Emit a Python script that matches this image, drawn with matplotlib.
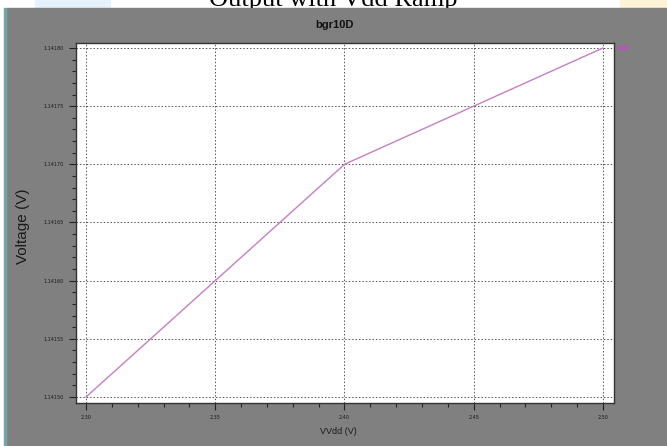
import matplotlib.pyplot as plt
from matplotlib.patches import Rectangle
from matplotlib.ticker import MultipleLocator

# sweep of supply voltage and resulting bandgap output
vdd = [2.30, 2.35, 2.40, 2.45, 2.50]
vout = [1.14150, 1.14160, 1.14170, 1.14175, 1.14180]
xticks = [2.30, 2.35, 2.40, 2.45, 2.50]
yticks = [1.14150, 1.14155, 1.14160, 1.14165, 1.14170, 1.14175, 1.14180]

W, H = 667, 446
fig = plt.figure(figsize=(W / 100, H / 100), dpi=100)
fig.patch.set_facecolor("white")

# faint page decoration behind the caption
fig.patches.append(Rectangle((35 / W, 1 - 8 / H), 75 / W, 8 / H, transform=fig.transFigure,
                             color="#e6f2fb", zorder=0))
fig.patches.append(Rectangle((620 / W, 1 - 8 / H), 47 / W, 8 / H, transform=fig.transFigure,
                             color="#fdf3d6", zorder=0))
fig.text(0.5, 1 - 6 / H, "Output with Vdd Ramp", ha="center", va="baseline",
         family="Liberation Serif", fontsize=19, zorder=1)

# grey plotting window
fig.patches.append(Rectangle((6 / W, 0), 1 - 6 / W, 1 - 8 / H, transform=fig.transFigure,
                             color="#808080", zorder=2))
fig.patches.append(Rectangle((4 / W, 0), 2 / W, 1 - 8 / H, transform=fig.transFigure,
                             color="#6fa8a8", zorder=2))

ax = fig.add_axes([76 / W, 1 - 403 / H, (614 - 76) / W, (403 - 43) / H])
ax.set_zorder(5)
ax.set_facecolor("white")
ax.plot(vdd, vout, color="#c77ec7", linewidth=1)

ax.set_xlim(2.2961, 2.5043)
ax.set_ylim(1.1414948, 1.1418043)
ax.set_xticks(xticks)
ax.set_xticklabels([f"{v:.2f}" for v in xticks])
ax.set_yticks(yticks)
ax.set_yticklabels([f"{v:.5f}" for v in yticks])
ax.xaxis.set_minor_locator(MultipleLocator(0.01))
ax.yaxis.set_minor_locator(MultipleLocator(0.00001))
ax.tick_params(which="both", direction="out", color="#222222", labelsize=3.5,
               labelcolor="#1a1a1a", width=0.8)
ax.tick_params(which="major", length=5)
ax.tick_params(which="minor", length=3)
ax.grid(True, which="major", color="#555555", linestyle=(0, (1.5, 2)), linewidth=0.7)
for s in ax.spines.values():
    s.set_color("#333333")
    s.set_linewidth(1)

fig.text(335 / W, 1 - 25 / H, "bgr10D", ha="center", va="center", zorder=6,
         fontsize=8, fontweight="bold", color="#111111", family="Liberation Sans")
fig.text(338 / W, 1 - 432 / H, "VVdd (V)", ha="center", va="center", zorder=6,
         fontsize=6.5, color="#1a1a1a", family="Liberation Sans")
fig.text(23 / W, 1 - 226 / H, "Voltage (V)", ha="center", va="center", rotation=90,
         zorder=6, fontsize=11, color="#1a1a1a", family="Liberation Sans")
fig.text(617 / W, 1 - 48 / H, "vdd", ha="left", va="center", zorder=6,
         fontsize=5, fontweight="bold", color="#d040d0", family="Liberation Sans")

fig.savefig("out.png", dpi=100)
